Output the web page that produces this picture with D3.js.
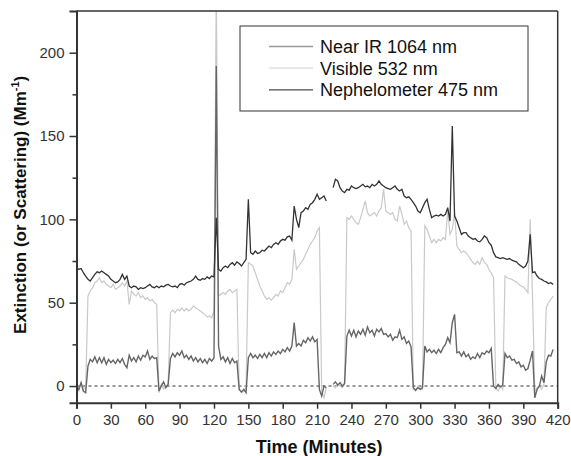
<!DOCTYPE html>
<html><head><meta charset="utf-8">
<script src="https://cdn.jsdelivr.net/npm/d3@7"></script>
<style>
body{margin:0;background:#fff}
svg{display:block}
text{font-family:"Liberation Sans",Arial,Helvetica,sans-serif}
</style>
</head><body>
<svg id="chart" width="571" height="456"></svg>
<script>
// sampling grid (minutes), every 2 minutes from 0 to 416
const minutes = d3.range(0, 417, 2);

// Nephelometer 475 nm (rows of 10 samples = 20 minutes)
const nephelometer475 = [
  71, 70, 70.5, 68, 66, 64, 63, 65, 67, 68.5,          // 0
  68, 69, 68, 67, 66, 64, 63, 62, 62.5, 64,            // 20
  67, 64, 66, 60, 59, 60, 59.5, 58, 59, 58.5,          // 40
  59, 60, 61, 59.5, 59, 60, 59, 60, 59.5, 60.5,        // 60
  61, 60, 59.5, 60, 59, 61, 61.5, 60.5, 62, 62.5,      // 80
  63, 64, 66, 64, 63.5, 64.5, 64, 65.5, 64.5, 66,      // 100
  65.5, 101, 70, 69, 71, 72, 71, 73, 74, 72.5,         // 120
  74.5, 73.5, 72, 74, 76, 112, 80, 79, 81, 79.5,       // 140
  80, 81.5, 81, 82.5, 84, 83, 85, 86, 85, 87,          // 160
  88, 87.5, 89.5, 90, 87.5, 108, 100, 95, 104, 105,    // 180
  107, 106, 109, 110, 112, 115, 112, 113, 114, 111,    // 200
  null, null, 119, 124, 123, 119, 117, 116, 118, 117.5,// 220
  120, 119, 118.5, 119, 120, 121, 119.5, 120, 119, 121,// 240
  120, 121, 123, 121, 120, 119, 118.5, 118, 119, 120,  // 260
  118, 117, 118, 114, 113, 113.5, 112, 110, 108, 105,  // 280
  104, 107, 110, 112, 106, 101, 102, 102.5, 102, 103,  // 300
  102, 103, 107, 99, 156, 102, 99, 95, 91, 92,         // 320
  92, 90, 89, 88, 88.5, 87, 86.5, 88, 90, 89,          // 340
  86, 84.5, 80, 77.5, 77, 76.5, 77, 76.5, 76, 76.5,    // 360
  75.5, 75, 74.5, 73, 72, 71, 72, 75, 91, 68,          // 380
  68.5, 66, 64.5, 64, 63, 62.5, 61.5, 62, 61           // 400
];

// Visible 532 nm
const visible532 = [
  1, -3, 2, -1, -2, 54, 57, 59, 62, 63,                // 0
  65, 62, 63, 61, 60, 59, 61, 58, 59, 60,              // 20
  62, 60, 63, 49, 57, 55, 54, 56, 53, 54,              // 40
  52, 53, 51, 52, 50, 49, -4, 1, -2, 0,                // 60
  1, 44, 45.5, 44, 46, 45, 47, 45, 46.5, 45,           // 80
  46, 48, 47, 46, 45, 44, 43, 41.5, 42, 41,            // 100
  45, 240, 54, 55, 56, 55, 57, 58, 56, 57,             // 120
  58, -2, -4, -3, -1, 74, 73, 72, 68, 64,              // 140
  60, 57, 54, 52, 53, 51.5, 53, 55, 54, 57,            // 160
  56, 59, 62, 61, 64, 82, 70, 72, 74, 76,              // 180
  79, 82, 85, 87, 89, 93, 95, -3, -7, -1,              // 200
  null, null, 0, -1, 1, 0, -1, 1, 101, 100,            // 220
  102, 100, 98, 97, 101, 106, 111, 104, 102, 103,      // 240
  104, 102, 105, 107, 118, 105, 104, 103, 104, 100,    // 260
  99, 108, 103, 97, 99, 95, 93, -2, -3, 0,             // 280
  -1, -2, 96, 94, 90, 86, 88, 86, 88, 87,              // 300
  89, 88, 105, 91, 94, 104, 84, 82, 80, 81,            // 320
  80, 78, 76, 74, 73, 75, 73, 77, 74, 73,              // 340
  70, 68, 65, -1, -3, 0, -2, 66, 65, 64.5,             // 360
  64, 63, 62.5, 61, 60, 59.5, 58, 56, 100, 54.5,       // 380
  -3, -1, 0, -2, 1, 47, 50, 52, 54                     // 400
];

// Near IR 1064 nm
const nearIR1064 = [
  0, -2, 2, -3, -4, 12, 16, 14.5, 17.5, 14,            // 0
  17, 14, 17, 13, 16, 14, 15.5, 13.5, 16, 14,          // 20
  16.5, 13, 11, 18.5, 15, 17, 14.5, 18, 15.5, 18.5,    // 40
  17.5, 21, 16, 18, 16.5, 17, -3, 0, 2.5, -1,          // 60
  1, 16.5, 19.5, 17.5, 20, 18.5, 21, 17, 18.5, 16,     // 80
  18, 15, 17, 14.5, 16.5, 14, 16, 13.5, 16.5, 15,      // 100
  17, 192, 24, 16, 17.5, 14.5, 17, 13.5, 16.5, 14,     // 120
  15, -2, -3.5, -2, -4, 17, 19.5, 17, 18.5, 16.5,      // 140
  19, 17, 19.5, 17, 20, 18, 20.5, 19, 21, 19.5,        // 160
  22, 20.5, 23, 21, 24, 38, 24, 25.5, 24, 27.5,        // 180
  26, 29, 27, 29.5, 26.5, 28, -2, -6, 0, -1,           // 200
  null, null, 1, 2.5, 0.5, 2, 0, 1.5, 30, 33.5,        // 220
  30, 33.5, 29.5, 33, 31, 34, 30.5, 35.5, 32, 33.5,    // 240
  30, 34, 32.5, 34.5, 31, 31.5, 29.5, 31, 27.5, 29.5,  // 260
  29, 33.5, 28, 29.5, 25.5, 27, 23.5, -1, -2.5, -1,    // 280
  -2, -1, 24, 20.5, 22, 20, 21.5, 19.5, 22, 20,        // 300
  23, 25, 29, 26, 38, 43, 20, 20.5, 18, 20.5,          // 320
  17.5, 19, 16, 17.5, 16.5, 19.5, 17, 20, 19, 21,      // 340
  20, 22.5, 0, -1.5, 1, -0.5, 0.5, 19.5, 17, 18,       // 360
  15.5, 16, 13.5, 14.5, 11.5, 12.5, 9.5, 10.5, 15.5, 21, // 380
  -7, -2, 0, 6, 2, 14.5, 18.5, 18, 22                  // 400
];

const xTicks = [0, 30, 60, 90, 120, 150, 180, 210, 240, 270, 300, 330, 360, 390, 420];
const yTicks = [0, 50, 100, 150, 200];
const yMinorTicks = [25, 75, 125, 175];
const legendLabels = ["Near IR 1064 nm", "Visible 532 nm", "Nephelometer 475 nm"];
const legendColors = ["#9a9a9a", "#dcdcdc", "#4a4a4a"];

const svg = d3.select("#chart");
const L = 76.5, R = 557.7, T = 11, B = 402.7;
const x = d3.scaleLinear().domain([0, 420]).range([L, R]);
const y = d3.scaleLinear().domain([-10, 225]).range([B, T]);

svg.append("defs").append("clipPath").attr("id", "plotClip")
  .append("rect").attr("x", L).attr("y", T).attr("width", R - L).attr("height", B - T);

// zero reference dashed line
svg.append("line")
  .attr("x1", L).attr("x2", R).attr("y1", y(0)).attr("y2", y(0))
  .attr("stroke", "#333").attr("stroke-width", 1).attr("stroke-dasharray", "3,3");

const line = d3.line()
  .defined(d => d.v !== null)
  .x(d => x(d.t)).y(d => y(d.v));

function series(vals) { return minutes.map((t, i) => ({t, v: vals[i] === undefined ? null : vals[i]})); }

const g = svg.append("g").attr("clip-path", "url(#plotClip)");
g.append("path").datum(series(visible532)).attr("d", line)
  .attr("fill", "none").attr("stroke", "#c9c9c9").attr("stroke-width", 1.2);
g.append("path").datum(series(nearIR1064)).attr("d", line)
  .attr("fill", "none").attr("stroke", "#666").attr("stroke-width", 1.4);
g.append("path").datum(series(nephelometer475)).attr("d", line)
  .attr("fill", "none").attr("stroke", "#333").attr("stroke-width", 1.3);

// frame
svg.append("line").attr("x1", L).attr("x2", R).attr("y1", T).attr("y2", T).attr("stroke", "#333").attr("stroke-width", 1.5);
svg.append("line").attr("x1", R).attr("x2", R).attr("y1", T).attr("y2", B).attr("stroke", "#333").attr("stroke-width", 1.5);

// axes
const xAxis = svg.append("g").attr("transform", `translate(0,${B})`)
  .call(d3.axisBottom(x).tickValues(xTicks).tickSize(6).tickPadding(6).tickFormat(d3.format("d")));
const yAxis = svg.append("g").attr("transform", `translate(${L},0)`)
  .call(d3.axisLeft(y).tickValues(yTicks).tickSize(7).tickPadding(5).tickFormat(d3.format("d")));
svg.append("g").attr("transform", `translate(${L},0)`)
  .call(d3.axisLeft(y).tickValues(yMinorTicks).tickSize(4).tickFormat(""))
  .call(a => a.select(".domain").remove());
[xAxis, yAxis].forEach(a => {
  a.select(".domain").attr("stroke", "#333").attr("stroke-width", 2);
  a.selectAll(".tick text").attr("fill", "#333").style("font-size", "15px");
});
svg.selectAll(".tick line").attr("stroke", "#333").attr("stroke-width", 1.5);

// titles
svg.append("text").attr("x", (L + R) / 2 + 2).attr("y", 453)
  .attr("text-anchor", "middle").style("font-size", "18px").style("font-weight", "bold").attr("fill", "#111")
  .text("Time (Minutes)");
const yt = svg.append("text").attr("transform", `translate(26,${(T + B) / 2 - 2}) rotate(-90)`)
  .attr("text-anchor", "middle").style("font-size", "17px").style("font-weight", "bold").attr("fill", "#111");
yt.append("tspan").text("Extinction (or Scattering) (Mm");
yt.append("tspan").attr("dy", -7).style("font-size", "11px").text("-1");
yt.append("tspan").attr("dy", 7).text(")");

// legend
const lg = svg.append("g");
lg.append("rect").attr("x", 240).attr("y", 26).attr("width", 288).attr("height", 85)
  .attr("fill", "#fff").attr("stroke", "#333").attr("stroke-width", 1);
legendLabels.forEach((lab, i) => {
  const cy = 46.5 + i * 21.7;
  lg.append("line").attr("x1", 269).attr("x2", 313).attr("y1", cy).attr("y2", cy)
    .attr("stroke", legendColors[i]).attr("stroke-width", 1.3);
  lg.append("text").attr("x", 320).attr("y", cy + 6.5).style("font-size", "18px").attr("fill", "#111").text(lab);
});
</script>
</body></html>
